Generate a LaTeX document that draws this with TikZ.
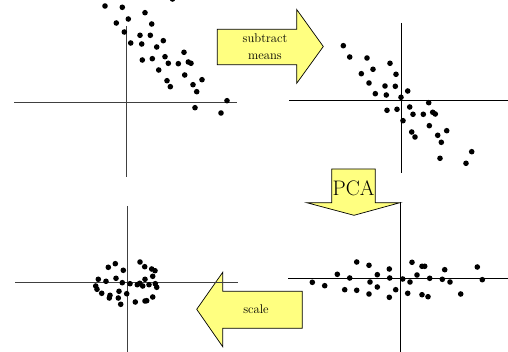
\documentclass[tikz,border=0pt]{standalone}
\definecolor{arrowfill}{HTML}{FFFF80}
\definecolor{axisgray}{HTML}{404040}
\tikzset{
  dot/.style={fill=black, draw=none, circle, minimum size=5.6pt, inner sep=0pt},
  axisline/.style={line width=0.9pt, draw=axisgray},
  axisblack/.style={line width=0.8pt, draw=black},
  bigarrow/.style={fill=arrowfill, draw=black, line width=0.7pt, line join=miter},
  arrowtext/.style={font=\fontsize{12.6}{17}\selectfont, align=center, inner sep=0pt},
  pcatext/.style={font=\fontsize{21}{24}\selectfont, inner sep=0pt},
}
\begin{document}
\begin{tikzpicture}[x=1pt, y=-1pt]
\useasboundingbox (0,0) rectangle (508,352);
% arrows
\draw[bigarrow] (217.3,29.3) -- (296.7,29.3) -- (296.7,9.5) -- (323.3,46.5) -- (296.7,83.3) -- (296.7,64.7) -- (217.3,64.7) -- cycle;
\node[arrowtext] (sub) at (265,46.5) {subtract\\means};
\draw[bigarrow] (331.7,169) -- (375.3,169) -- (375.3,202.7) -- (400,202.7) -- (354,215.3) -- (306.7,202.7) -- (331.7,202.7) -- cycle;
\node[pcatext] (pca) at (353.5,188.5) {PCA};
\draw[bigarrow] (302.3,291.3) -- (222.7,291.3) -- (222.7,272.3) -- (196.7,309.3) -- (222.7,346.7) -- (222.7,328.3) -- (302.3,328.3) -- cycle;
\node[arrowtext] (scl) at (256,309.5) {scale};
% axes
\coordinate (a1l) at (14,102.3); \coordinate (a1r) at (237,102.3);
\coordinate (a1t) at (126.3,26); \coordinate (a1b) at (126.3,177);
\draw[axisline] (a1l) -- (a1r); \draw[axisline] (a1t) -- (a1b);
\coordinate (a2l) at (289,100); \coordinate (a2r) at (508,100);
\coordinate (a2t) at (401,23); \coordinate (a2b) at (401,173);
\draw[axisblack] (a2l) -- (a2r); \draw[axisblack] (a2t) -- (a2b);
\coordinate (a3l) at (15,282.7); \coordinate (a3r) at (237.7,282.7);
\coordinate (a3t) at (127.7,206); \coordinate (a3b) at (127.7,352);
\draw[axisline] (a3l) -- (a3r); \draw[axisline] (a3t) -- (a3b);
\coordinate (a4l) at (288,278); \coordinate (a4r) at (508,278);
\coordinate (a4t) at (400.7,202); \coordinate (a4b) at (400.7,352);
\draw[axisblack] (a4l) -- (a4r); \draw[axisblack] (a4t) -- (a4b);
% panel 1 dots
\foreach \x/\y in {105/6,122.3/7.3,172.5/-1,145/12.7,128.3/19,116.3/23,151.7/24,124.3/32,140/35.3,150.3/35.3,163.3/40.7,130.7/43,141.7/44,156.7/47,184/52.3,165/56.7,142.3/60,152.3/58.7,168.3/63.3,178.3/63.7,188.3/62,191/63.3,158.7/70,184.7/75,202/79.7,167/80.7,170.3/86.7,193/84.7,196.7/91.7,227/100.7,195/107.7,221/113}
  \node[dot] at (\x,\y) {};
% panel 2 dots
\foreach \x/\y in {343.3/45.7,349.7/57,367/58,390/63.3,373/69.3,361.3/73.7,396/74.3,369/83,385/86,395.3/86.3,407.7/91,375.3/93.7,386.3/95,401/97.3,428.7/102.7,409.7/107,387/110.3,397/109.3,413/114.3,423.3/114.3,432.7/112.3,435.3/114,403/120.7,429.3/125.7,446.7/130.7,411.7/132,415/137,437.7/135.3,441.3/142.3,471.7/151.7,440/158.3,466/163.3}
  \node[dot] at (\x,\y) {};
% panel 3 dots
\foreach \x/\y in {108.3/267.3,115.3/263.7,123.3/270.3,140/262,144.7/266.7,151.7/269,155/270.7,152.7/276.3,98.3/279.3,106/281.3,116/278.3,122.3/282.7,130/283.7,137.3/284.7,139.7/283.3,142.7/286,145/279.3,149/284.7,155.3/283.7,156.7/287.3,95.7/286,97/289.3,101.7/293.3,110/295.3,109.3/298,119/291.3,118.3/298,126.7/293.7,120.7/304.3,135.3/302,145/301,146.7/300.7,152.7/297}
  \node[dot] at (\x,\y) {};
% panel 4 dots
\foreach \x/\y in {312.3/282.3,324.7/285.7,337.3/274.3,344.7/289.7,349.7/278,356.7/262,356.7/290.3,369/265.3,370/282,369/294,377.3/274.7,377.3/287,389.3/269,389.7/278,389.3/297.3,395.7/289.7,402.7/279,410/282,407.7/293.3,412/262.3,417/275,422/266.3,424.7/266.3,422/294.7,428/296.7,429.7/278.3,442.3/279.3,444.7/269.7,450/282,460.7/294,477.3/267,482.3/279.7}
  \node[dot] at (\x,\y) {};
\end{tikzpicture}
\end{document}
